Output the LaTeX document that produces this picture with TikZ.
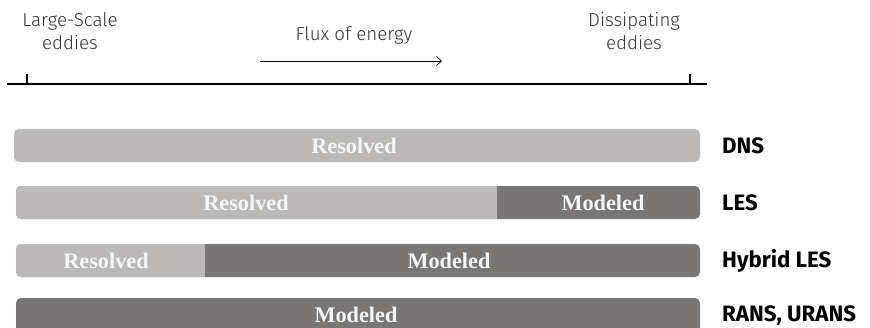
\documentclass[tikz,border=0pt]{standalone}
\usepackage{fontspec}
\usetikzlibrary{arrows.meta,positioning,fit}
\setmainfont{Liberation Serif}
\newfontfamily\eddyfont{Fira Sans}[UprightFont=* Light]
\newfontfamily\modelfont{Fira Sans}
\definecolor{ResolvedGray}{RGB}{186,185,183}
\definecolor{ModeledGray}{RGB}{120,119,117}
\definecolor{TextGray}{RGB}{51,51,51}
\definecolor{BarText}{RGB}{246,246,246}
\tikzset{
  bar/.style={rounded corners=0.15cm,inner sep=0pt,fill=ResolvedGray},
  bartext/.style={font=\bfseries\fontsize{19}{22}\selectfont,text=BarText,inner sep=0pt},
  modellabel/.style={anchor=base west,inner sep=0pt,
    font=\modelfont\bfseries\fontsize{19}{22}\selectfont},
  scalelabel/.style={align=center,inner sep=0pt,text=TextGray,
    font=\eddyfont\fontsize{16}{19.6}\selectfont},
  axisline/.style={line width=1.7pt,draw=black},
  fluxarrow/.style={-{Straight Barb[length=0.15cm,width=0.27cm]},line width=0.6pt},
}

\begin{document}
\begin{tikzpicture}[x=0.03cm,y=-0.03cm]
  \useasboundingbox (0,0) rectangle (870,327);
  \clip (0,0) rectangle (870,327);
  % scale axis
  \coordinate (axis-l) at (7,84);
  \coordinate (axis-r) at (707,84);
  \coordinate (large) at (27,84);
  \coordinate (small) at (690,84);
  \draw[axisline] (axis-l) -- (axis-r);
  \draw[axisline] (large) -- ++(0,-10);
  \draw[axisline] (small) -- ++(0,-10);
  \node[scalelabel] (large-lbl) at (70,31) {Large-Scale\\eddies};
  \node[scalelabel] (small-lbl) at (634,31) {Dissipating\\eddies};
  \node[scalelabel] (flux) at (354,35) {Flux of energy};
  \coordinate (flux-s) at (260,61);
  \coordinate (flux-e) at (442,61);
  \draw[fluxarrow] (flux-s) -- (flux-e);
  % bars
  \coordinate (les-cut) at (497,219);
  \coordinate (hyb-cut) at (205,277);
  \node[bar,fit={(14,129) (700,162)}] (dns) {};
  \node[bar,fill=ModeledGray,fit={(16,186) (700,219)},
    path picture={\fill[ResolvedGray,sharp corners] (path picture bounding box.north west) rectangle (les-cut);}] (les) {};
  \node[bar,fill=ModeledGray,fit={(16,244) (700,277)},
    path picture={\fill[ResolvedGray,sharp corners] (path picture bounding box.north west) rectangle (hyb-cut);}] (hyb) {};
  \node[bar,fill=ModeledGray,fit={(16,298) (700,334)}] (rans) {};
  \node[bartext] (dns-res) at (354,146) {Resolved};
  \node[bartext] (les-res) at (246,203) {Resolved};
  \node[bartext] (les-mod) at (603,203) {Modeled};
  \node[bartext] (hyb-res) at (106,261) {Resolved};
  \node[bartext] (hyb-mod) at (449,261) {Modeled};
  \node[bartext] (rans-mod) at (356,315) {Modeled};
  % model names
  \node[modellabel] (dns-name) at (722,153) {DNS};
  \node[modellabel] (les-name) at (722,210) {LES};
  \node[modellabel] (hyb-name) at (722,267) {Hybrid LES};
  \node[modellabel] (rans-name) at (722,321) {RANS, URANS};
\end{tikzpicture}
\end{document}
